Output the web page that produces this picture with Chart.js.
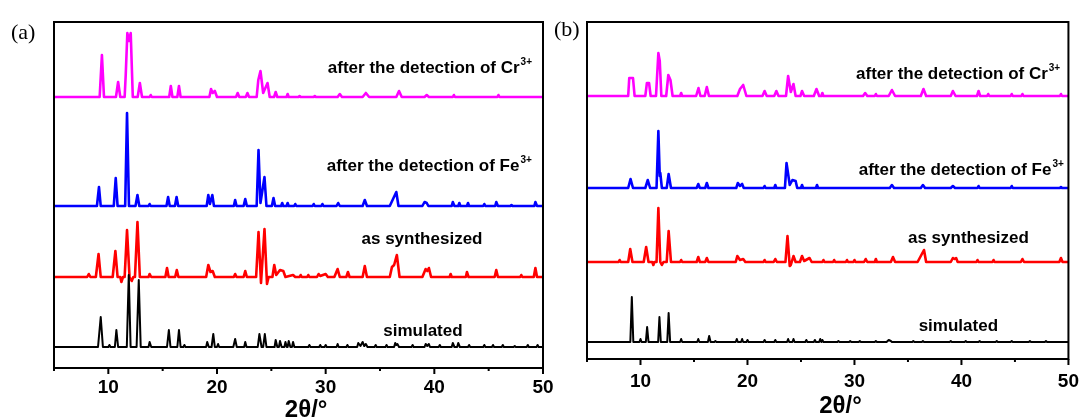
<!DOCTYPE html>
<html>
<head>
<meta charset="utf-8">
<script src="https://cdn.jsdelivr.net/npm/chart.js@4.4.1/dist/chart.umd.min.js"></script>
<style>
  body { margin: 0; width: 1082px; height: 419px; overflow: hidden; background: #fff; position: relative; }
  canvas { position: absolute; top: 0; }
</style>
</head>
<body>
<canvas id="chartA" width="560" height="440" style="left:0"></canvas>
<canvas id="chartB" width="537" height="440" style="left:545px"></canvas>
<script>
// series names, bottom to top
const seriesNames = ["simulated", "as synthesized", "after the detection of Fe", "after the detection of Cr"];
const seriesSup = ["", "", "3+", "3+"];
const seriesColors = ["#000000", "#ff0000", "#0000ff", "#ff00ff"];
const tickValues = [10, 20, 30, 40, 50];

// (a) panel: [2theta, intensity above own baseline]
const simA = [[5,0],[9.05,0],[9.3,30],[9.5,0],[10.0,0],[10.1,2],[10.2,0],[10.6,0],[10.74,17],[10.9,0],[11.7,0],[11.88,72],[12.05,0],[12.6,0],[12.8,67],[12.98,0],[13.7,0],[13.8,5],[13.95,0],[15.4,0],[15.57,17],[15.72,0],[16.35,0],[16.5,17],[16.65,0],[16.9,0],[17.0,2],[17.1,0],[19.0,0],[19.1,5],[19.25,0],[19.5,0],[19.66,13],[19.8,0],[20.0,0],[20.1,3],[20.2,0],[21.5,0],[21.67,8],[21.82,0],[22.5,0],[22.6,5],[22.72,0],[23.75,0],[23.9,13],[24.1,0],[24.25,0],[24.4,13],[24.55,0],[25.3,0],[25.4,7],[25.55,0],[25.7,0],[25.8,6],[25.95,0],[26.2,0],[26.3,5],[26.42,0],[26.5,0],[26.6,6],[26.75,0],[26.9,0],[27.0,5],[27.12,0],[28.4,0],[28.5,2],[28.6,0],[29.4,0],[29.5,2],[29.6,0],[29.9,0],[30.0,2],[30.1,0],[31.0,0],[31.1,3],[31.2,0],[31.9,0],[32.0,2],[32.1,0],[32.9,0],[33.0,4],[33.2,1],[33.4,5],[33.55,1],[33.7,3],[33.85,0],[34.5,0],[34.6,2],[34.7,0],[35.5,0],[35.6,2],[35.7,0],[36.3,0],[36.4,4],[36.5,2],[36.6,3],[36.75,0],[37.9,0],[38.0,2],[38.1,0],[39.1,0],[39.2,3],[39.35,1],[39.5,3],[39.6,0],[40.4,0],[40.5,2],[40.6,0],[41.6,0],[41.7,4],[41.85,0],[42.1,0],[42.2,4],[42.35,0],[43.1,0],[43.2,2],[43.3,0],[44.5,0],[44.6,2],[44.7,0],[45.3,0],[45.4,2],[45.5,0],[46.2,0],[46.3,2],[46.4,0],[47.3,0],[47.4,1],[47.5,0],[48.5,0],[48.6,2],[48.7,0],[49.4,0],[49.5,2],[49.6,0],[50,0]];
const synA = [[5,0],[8.05,0],[8.2,3],[8.35,0],[8.85,0],[9.1,23],[9.3,0],[10.4,0],[10.65,26],[10.85,0],[11.1,0],[11.2,-5],[11.35,0],[11.5,0],[11.72,47],[11.95,0],[12.15,-4],[12.3,0],[12.45,0],[12.68,55],[12.9,0],[13.7,0],[13.8,3],[13.95,0],[15.25,0],[15.4,9],[15.55,0],[16.15,0],[16.3,7],[16.45,0],[19.0,0],[19.2,12],[19.4,5],[19.6,6],[19.8,0],[21.55,0],[21.67,3],[21.8,0],[22.45,0],[22.6,6],[22.75,0],[23.6,0],[23.82,45],[24.05,-6],[24.1,-6],[24.37,48],[24.6,-7],[24.75,0],[25.1,0],[25.27,12],[25.45,2],[25.8,7],[26.1,6],[26.3,0],[27.0,2],[27.2,0],[27.6,0],[27.7,2],[27.8,0],[28.3,0],[28.4,2],[28.5,0],[29.2,0],[29.35,3],[29.5,1],[30.0,3],[30.2,0],[30.8,0],[31.1,8],[31.3,0],[31.9,0],[32.05,5],[32.2,0],[33.4,0],[33.6,11],[33.8,0],[35.9,0],[36.1,10],[36.3,12],[36.55,22],[36.8,0],[38.9,0],[39.2,8],[39.35,6],[39.5,9],[39.7,0],[41.4,0],[41.5,3],[41.6,0],[42.9,0],[43.0,5],[43.15,0],[45.55,0],[45.7,7],[45.85,0],[47.9,0],[48.0,2],[48.1,0],[49.15,0],[49.3,9],[49.45,0],[50,0]];
const feA = [[5,0],[8.95,0],[9.14,19],[9.3,0],[10.5,0],[10.68,28],[10.85,0],[11.55,0],[11.72,93],[11.9,0],[12.5,0],[12.68,11],[12.85,0],[13.7,0],[13.8,2],[13.9,0],[15.35,0],[15.5,9],[15.65,0],[16.13,0],[16.28,9],[16.43,0],[19.05,0],[19.2,11],[19.35,2],[19.57,11],[19.72,0],[21.55,0],[21.67,6],[21.8,0],[22.45,0],[22.6,7],[22.75,0],[23.65,0],[23.82,56],[24.0,3],[24.37,29],[24.55,0],[25.05,0],[25.2,8],[25.35,0],[25.9,0],[26.0,3],[26.1,0],[26.4,0],[26.5,3],[26.6,0],[27.1,0],[27.2,2],[27.3,0],[28.8,0],[28.9,2],[29.0,0],[29.6,0],[29.7,2],[29.8,0],[31.0,0],[31.15,3],[31.3,0],[33.4,0],[33.6,6],[33.8,0],[35.9,0],[36.2,7],[36.5,14],[36.7,0],[38.9,0],[39.1,4],[39.3,3],[39.45,0],[41.6,0],[41.7,4],[41.85,0],[42.2,0],[42.3,3],[42.4,0],[43.0,0],[43.1,3],[43.2,0],[44.5,0],[44.6,2],[44.7,0],[45.6,0],[45.7,4],[45.85,0],[47.0,0],[47.1,1],[47.2,0],[49.2,0],[49.3,4],[49.45,0],[50,0]];
const crA = [[5,0],[9.2,0],[9.41,42],[9.6,0],[10.7,0],[10.9,15],[11.1,0],[11.5,0],[11.6,22],[11.75,64],[11.9,56],[12.06,64],[12.25,0],[12.7,0],[12.9,14],[13.1,0],[13.8,0],[13.9,2],[14.0,0],[15.6,0],[15.75,11],[15.9,0],[16.35,0],[16.5,11],[16.65,0],[19.3,0],[19.45,8],[19.6,4],[19.8,6],[20.0,0],[21.75,0],[21.9,4],[22.05,0],[22.65,0],[22.8,4],[22.95,0],[23.65,0],[23.8,17],[24.0,26],[24.25,4],[24.65,14],[24.85,0],[25.25,0],[25.4,5],[25.55,0],[26.4,0],[26.5,3],[26.6,0],[27.5,0],[27.6,1],[27.7,0],[28.9,0],[29.0,1],[29.1,0],[31.1,0],[31.3,3],[31.5,0],[33.4,0],[33.7,4],[34.0,0],[36.5,0],[36.75,6],[37.0,0],[39.1,0],[39.3,2],[39.5,0],[41.7,0],[41.8,2],[41.9,0],[45.8,0],[45.9,2],[46.0,0],[50,0]];
const offsetsA = [21, 91, 162, 271];

// (b) panel
const simB = [[5,0],[9.05,0],[9.19,45],[9.33,0],[9.9,0],[10.0,3],[10.1,0],[10.5,0],[10.62,15],[10.75,0],[11.65,0],[11.77,25],[11.9,0],[12.5,0],[12.63,29],[12.77,0],[13.7,0],[13.8,3],[13.9,0],[15.3,0],[15.4,3],[15.5,0],[16.3,0],[16.42,6],[16.55,0],[16.9,0],[17.0,1],[17.1,0],[18.9,0],[19.0,3],[19.1,0],[19.4,0],[19.5,3],[19.6,0],[19.9,0],[20.0,2],[20.1,0],[21.5,0],[21.6,2],[21.7,0],[22.5,0],[22.6,2],[22.7,0],[23.7,0],[23.8,3],[23.9,0],[24.2,0],[24.3,3],[24.4,0],[25.4,0],[25.5,2],[25.6,0],[26.2,0],[26.3,2],[26.4,0],[26.7,0],[26.8,3],[26.9,0],[27.0,2],[27.1,0],[28.4,0],[28.5,1],[28.6,0],[29.5,0],[29.6,1],[29.7,0],[30.4,0],[30.5,1],[30.6,0],[31.9,0],[32.0,1],[32.1,0],[33.0,0],[33.2,2],[33.4,1],[33.5,0],[35.4,0],[35.5,1],[35.6,0],[36.3,0],[36.4,1],[36.5,0],[38.9,0],[39.0,1],[39.1,0],[40.3,0],[40.4,1],[40.5,0],[41.6,0],[41.7,1],[41.8,0],[43.2,0],[43.3,1],[43.4,0],[44.6,0],[44.7,1],[44.8,0],[46.3,0],[46.4,1],[46.5,0],[47.8,0],[47.9,1],[48.0,0],[50,0]];
const synB = [[5,0],[7.95,0],[8.05,2],[8.15,0],[8.85,0],[9.04,13],[9.25,0],[10.3,0],[10.53,15],[10.75,0],[11.1,0],[11.2,-3],[11.3,0],[11.5,0],[11.67,54],[11.85,0],[12.0,-3],[12.15,0],[12.45,0],[12.63,31],[12.85,0],[13.7,0],[13.8,2],[13.9,0],[15.25,0],[15.4,5],[15.55,0],[16.05,0],[16.2,4],[16.35,0],[18.9,0],[19.05,6],[19.3,2],[19.6,3],[19.8,0],[21.5,0],[21.6,2],[21.7,0],[22.45,0],[22.6,3],[22.75,0],[23.55,0],[23.74,26],[23.95,-4],[24.05,-3],[24.3,6],[24.5,0],[24.9,0],[25.1,6],[25.3,1],[25.8,4],[26.0,0],[27.0,0],[27.1,2],[27.2,0],[28.0,0],[28.1,2],[28.2,0],[29.2,0],[29.3,2],[29.4,0],[29.9,0],[30.0,2],[30.1,0],[30.9,0],[31.05,3],[31.2,0],[31.9,0],[32.0,3],[32.1,0],[33.4,0],[33.6,5],[33.8,0],[35.9,0],[36.2,6],[36.5,12],[36.7,0],[39.0,0],[39.2,4],[39.35,3],[39.5,4],[39.65,0],[41.4,0],[41.5,2],[41.6,0],[42.9,0],[43.0,2],[43.1,0],[45.55,0],[45.7,3],[45.85,0],[49.15,0],[49.3,4],[49.45,0],[50,0]];
const feB = [[5,0],[8.85,0],[9.07,9],[9.3,0],[10.45,0],[10.68,8],[10.9,0],[11.5,0],[11.67,57],[11.8,12],[11.85,15],[12.0,0],[12.45,0],[12.63,14],[12.85,0],[15.25,0],[15.4,4],[15.55,0],[16.05,0],[16.2,5],[16.35,0],[18.95,0],[19.1,5],[19.3,2],[19.5,4],[19.65,0],[21.5,0],[21.6,2],[21.7,0],[22.5,0],[22.6,3],[22.7,0],[23.5,0],[23.65,25],[23.95,3],[24.2,8],[24.5,7],[24.65,0],[25.0,0],[25.1,3],[25.2,0],[26.4,0],[26.5,3],[26.6,0],[33.3,0],[33.5,3],[33.7,0],[36.2,0],[36.4,3],[36.6,0],[39.0,0],[39.2,2],[39.4,0],[41.5,0],[41.6,2],[41.7,0],[44.6,0],[44.7,2],[44.8,0],[49.2,0],[49.3,1],[49.4,0],[50,0]];
const crB = [[5,0],[8.85,0],[8.95,18],[9.3,18],[9.45,0],[10.45,0],[10.6,13],[10.8,13],[10.95,0],[11.45,0],[11.67,43],[11.8,35],[11.95,0],[12.4,0],[12.6,21],[12.8,16],[13.0,0],[13.7,0],[13.8,3],[13.9,0],[15.2,0],[15.42,8],[15.6,0],[16.0,0],[16.2,9],[16.4,0],[19.05,0],[19.3,7],[19.6,11],[19.9,0],[21.4,0],[21.6,5],[21.8,0],[22.5,0],[22.7,5],[22.9,0],[23.6,0],[23.8,20],[24.05,4],[24.3,12],[24.5,0],[24.95,0],[25.1,5],[25.3,0],[26.2,0],[26.45,7],[26.7,0],[26.9,0],[27.0,3],[27.1,0],[30.8,0],[31.0,3],[31.2,0],[31.9,0],[32.0,2],[32.1,0],[33.2,0],[33.5,6],[33.8,0],[36.2,0],[36.45,7],[36.7,0],[39.0,0],[39.2,5],[39.45,0],[41.45,0],[41.6,5],[41.75,0],[42.4,0],[42.5,2],[42.6,0],[44.6,0],[44.7,2],[44.8,0],[45.6,0],[45.7,2],[45.8,0],[49.2,0],[49.3,2],[49.4,0],[50,0]];
const offsetsB = [17, 97, 171, 263];

// text positions: [2theta of left edge, y value of text middle]
const labelPosA = [[35.3, 37], [33.3, 129], [30.1, 202], [30.2, 300]];
const labelPosB = [[36.0, 33], [35.0, 121], [30.4, 189], [30.15, 285]];

// frame, ticks, texts
const framePlugin = {
    id: "frame",
    afterDraw(chart, args, opts) {
        const ctx = chart.ctx;
        const a = chart.chartArea;
        const xs = chart.scales.x;
        const ys = chart.scales.y;
        ctx.save();
        ctx.strokeStyle = "#000";
        ctx.lineWidth = 2;
        ctx.strokeRect(a.left, a.top, a.right - a.left, a.bottom - a.top);
        // major / minor ticks pointing out
        for (let v = 5; v <= 50; v += 5) {
            const px = xs.getPixelForValue(v);
            const len = v % 10 === 0 ? 6 : 3;
            ctx.beginPath();
            ctx.moveTo(px, a.bottom);
            ctx.lineTo(px, a.bottom + len);
            ctx.stroke();
        }
        // curve labels
        ctx.fillStyle = "#000";
        ctx.textBaseline = "middle";
        ctx.textAlign = "left";
        opts.pos.forEach(function (p, i) {
            const x = xs.getPixelForValue(p[0]);
            const y = ys.getPixelForValue(p[1]);
            ctx.font = "bold 17px 'Liberation Sans', Arial, sans-serif";
            ctx.fillText(seriesNames[i], x, y);
            if (seriesSup[i]) {
                const w = ctx.measureText(seriesNames[i]).width;
                ctx.font = "bold 10px 'Liberation Sans', Arial, sans-serif";
                ctx.fillText(seriesSup[i], x + w + 1, y - 6);
            }
        });
        // axis title
        ctx.textAlign = "center";
        ctx.font = "bold 24px 'Liberation Sans', Arial, sans-serif";
        ctx.fillText("2θ/°", xs.getPixelForValue(opts.titleX), a.bottom + opts.titleDy);
        // panel letter
        ctx.textAlign = "left";
        ctx.font = "22px 'Liberation Serif', 'Times New Roman', serif";
        ctx.fillText(opts.panel, opts.panelX, opts.panelY);
        ctx.restore();
    },
};

function makeChart(id, series, offsets, yMax, pad, axisHeight, tickPad, frameOpts) {
    const ctx = document.getElementById(id).getContext("2d");
    return new Chart(ctx, {
        type: "line",
        data: {
            datasets: series.map(function (s, i) {
                return {
                    label: seriesNames[i],
                    data: s.map(function (p) {
                        return { x: p[0], y: p[1] + offsets[i] };
                    }),
                    borderColor: seriesColors[i],
                    borderWidth: i === 0 ? 2 : 2.6,
                    borderJoinStyle: "round",
                    pointRadius: 0,
                    tension: 0,
                    fill: false,
                };
            }),
        },
        options: {
            responsive: false,
            animation: false,
            layout: { padding: pad },
            plugins: {
                legend: { display: false },
                tooltip: { enabled: false },
                frame: frameOpts,
            },
            scales: {
                x: {
                    type: "linear",
                    min: 5,
                    max: 50,
                    afterBuildTicks: function (scale) {
                        scale.ticks = tickValues.map(function (v) {
                            return { value: v };
                        });
                    },
                    afterFit: function (scale) {
                        scale.height = axisHeight;
                    },
                    grid: { display: false },
                    border: { display: false },
                    ticks: {
                        autoSkip: false,
                        maxRotation: 0,
                        padding: tickPad,
                        color: "#000",
                        font: { family: "'Liberation Sans', Arial, sans-serif", size: 19, weight: "bold" },
                    },
                },
                y: {
                    display: false,
                    min: 0,
                    max: yMax,
                },
            },
        },
        plugins: [framePlugin],
    });
}

makeChart("chartA", [simA, synA, feA, crA], offsetsA, 346,
    { left: 54, right: 17, top: 22, bottom: 0 }, 72, 0,
    { pos: labelPosA, titleX: 28.2, titleDy: 42, panel: "(a)", panelX: 11, panelY: 33 });
makeChart("chartB", [simB, synB, feB, crB], offsetsB, 337,
    { left: 42, right: 10, top: 22, bottom: 0 }, 81, 3,
    { pos: labelPosB, titleX: 28.7, titleDy: 47, panel: "(b)", panelX: 9, panelY: 30 });
</script>
</body>
</html>
